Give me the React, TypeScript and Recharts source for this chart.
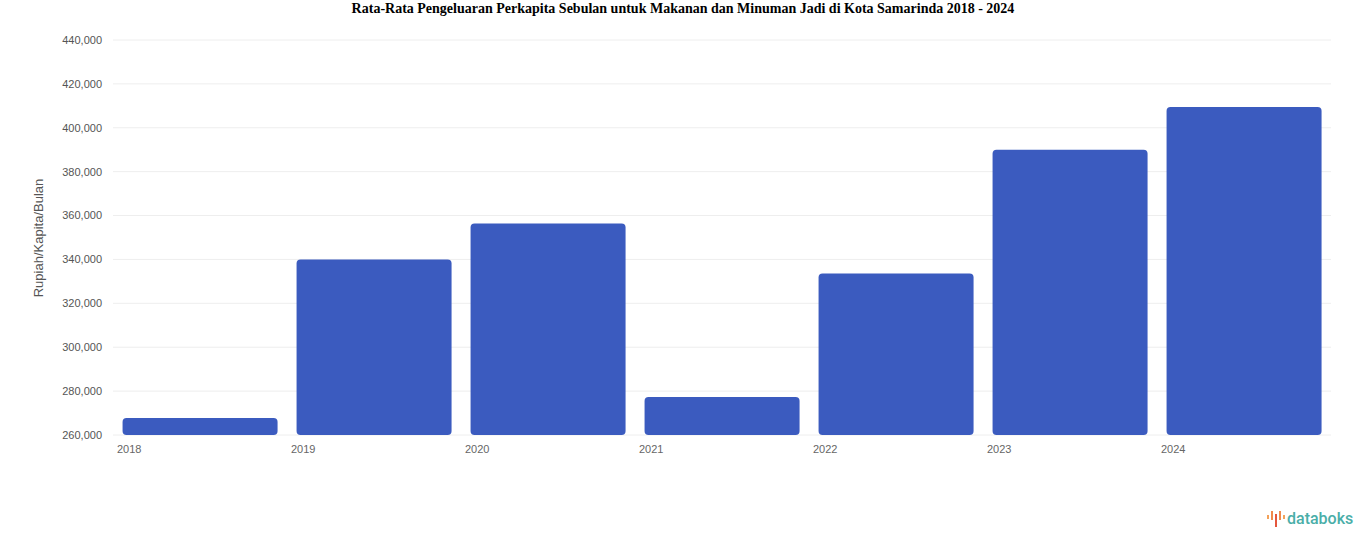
import { BarChart, Bar, XAxis, YAxis, CartesianGrid } from 'recharts';

const years = ['2018', '2019', '2020', '2021', '2022', '2023', '2024'];
const spending = [267700, 340000, 356400, 277300, 333600, 390000, 409500];
const yTicks = [260000, 280000, 300000, 320000, 340000, 360000, 380000, 400000, 420000, 440000];

const chartData = years.map((year, i) => ({ year, value: spending[i] }));

const formatTick = (v: number) => v.toLocaleString('en-US');

const YearTick = ({ x, y, payload }: any) => (
    <text x={x - 83} y={y + 10} fill="#666" fontSize={11} fontFamily="Arial, sans-serif" textAnchor="start">
        {payload.value}
    </text>
);

const Logo = () => (
    <div style={{ position: 'absolute', left: 1266, top: 508, display: 'flex', alignItems: 'center' }}>
        <svg width={20} height={20} viewBox="0 0 20 20">
            <rect x={1} y={7} width={2} height={4} fill="#f4a259" />
            <rect x={5} y={3} width={2} height={9} fill="#f08a4b" />
            <rect x={9} y={6} width={2} height={13} fill="#e4573d" />
            <rect x={13} y={3} width={2} height={9} fill="#f08a4b" />
            <rect x={17} y={7} width={2} height={4} fill="#f4a259" />
        </svg>
        <span style={{ fontFamily: 'Roboto, sans-serif', fontSize: 16, color: '#4aaea8', marginLeft: 1, fontWeight: 500 }}>
            databoks
        </span>
    </div>
);

export default function App() {
    return (
        <div style={{ position: 'absolute', left: 0, top: 0, width: 1366, height: 547, background: '#fff' }}>
            <div
                style={{
                    position: 'absolute',
                    top: 1,
                    left: 0,
                    width: 1366,
                    textAlign: 'center',
                    fontFamily: '"Liberation Serif", "Times New Roman", serif',
                    fontWeight: 'bold',
                    fontSize: 14,
                }}
            >
                Rata-Rata Pengeluaran Perkapita Sebulan untuk Makanan dan Minuman Jadi di Kota Samarinda 2018 - 2024
            </div>
            <div
                style={{
                    position: 'absolute',
                    left: 38,
                    top: 238,
                    transform: 'translate(-50%, -50%) rotate(-90deg)',
                    fontFamily: 'Arial, sans-serif',
                    fontSize: 13,
                    color: '#555',
                    whiteSpace: 'nowrap',
                }}
            >
                Rupiah/Kapita/Bulan
            </div>
            <BarChart
                width={1366}
                height={547}
                data={chartData}
                margin={{ top: 40, right: 35, left: 53, bottom: 0 }}
                barCategoryGap="5.5%"
                style={{ position: 'absolute', left: 0, top: 0 }}
            >
                <CartesianGrid vertical={false} stroke="#eeeeee" />
                <XAxis
                    dataKey="year"
                    axisLine={false}
                    tickLine={false}
                    height={112}
                    tick={<YearTick />}
                    interval={0}
                />
                <YAxis
                    width={60}
                    domain={[260000, 440000]}
                    ticks={yTicks}
                    tickFormatter={formatTick}
                    axisLine={false}
                    tickLine={false}
                    tickMargin={5}
                    tick={{ fill: '#555', fontSize: 11, fontFamily: 'Arial, sans-serif' }}
                    interval={0}
                />
                <Bar dataKey="value" fill="#3b5bbf" radius={[4, 4, 4, 4]} isAnimationActive={false} />
            </BarChart>
            <Logo />
        </div>
    );
}
